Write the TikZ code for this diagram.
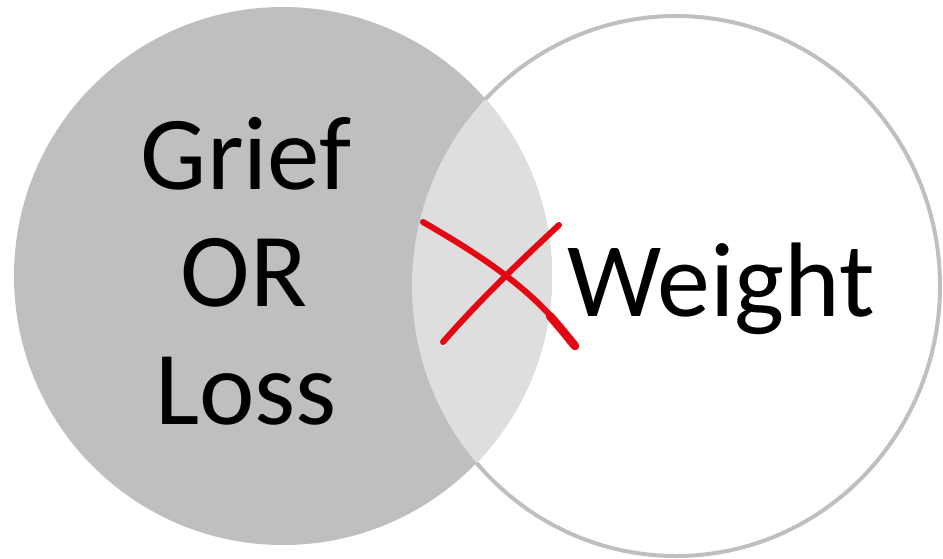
\documentclass[tikz,border=0pt]{standalone}
\usepackage{fontspec}
\setmainfont{Carlito}
\definecolor{lgray}{HTML}{BFBFBF}
\definecolor{igray}{HTML}{DEDEDE}
\definecolor{xred}{HTML}{E30613}
\begin{document}
\begin{tikzpicture}[x=1pt,y=-1pt,
  bigtext/.style={anchor=base,inner sep=0pt,font=\fontsize{105pt}{117pt}\selectfont},
  crossline/.style={draw=xred,line cap=round,line join=round}]
\useasboundingbox (0,0) rectangle (943,558);
% right circle outline
\draw[lgray,line width=4pt] (676,286) ellipse [x radius=264pt,y radius=270pt];
% left circle
\fill[lgray] (283,276) circle [radius=269pt];
% intersection
\begin{scope}
  \clip (283,276) circle [radius=269pt];
  \fill[igray] (676,286) ellipse [x radius=264pt,y radius=270pt];
\end{scope}
% texts
\node[bigtext] (grief) at (246,189) {Grief};
\node[bigtext] (or) at (244,306) {OR};
\node[bigtext] (loss) at (246,424) {Loss};
\node[bigtext,font=\fontsize{106pt}{117pt}\selectfont,anchor=base west] (weight) at (567,316) {Weight};
% red cross
\draw[crossline,line width=6pt] (423,222) .. controls (480,255) and (540,293) .. (575,347);
\draw[crossline,line width=8.5pt] (550,316) .. controls (562,330) .. (575,346);
\draw[crossline,line width=6pt] (559,225) .. controls (515,266) and (480,300) .. (443,342);
\end{tikzpicture}
\end{document}
